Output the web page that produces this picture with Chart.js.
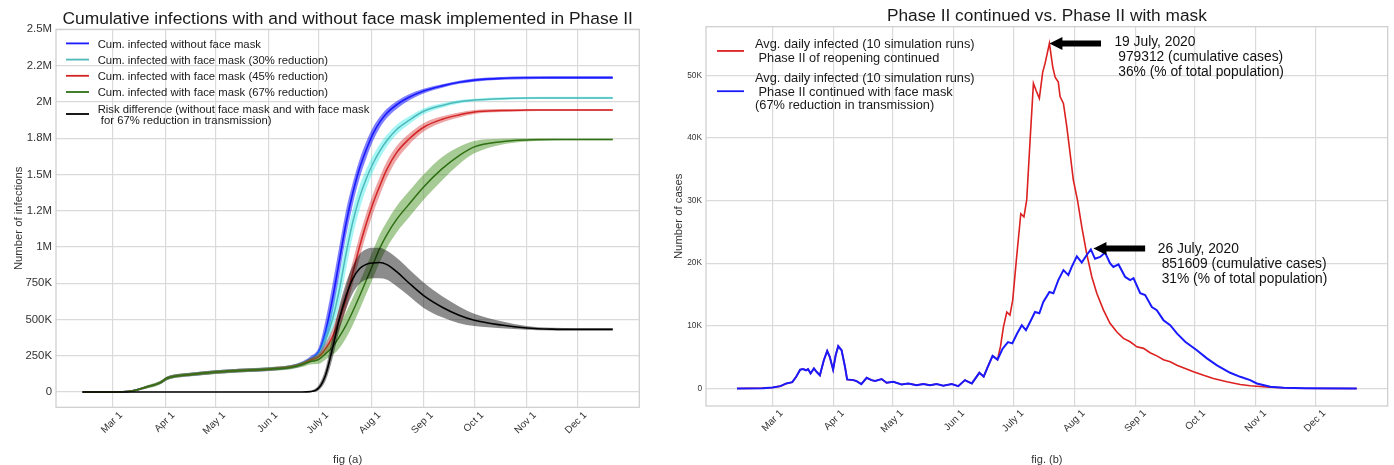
<!DOCTYPE html>
<html><head><meta charset="utf-8">
<script src="https://cdn.jsdelivr.net/npm/chart.js@4.4.1/dist/chart.umd.min.js"></script>
<style>
html,body{margin:0;padding:0;background:#fff;overflow:hidden;}
#wrap{position:relative;width:1394px;height:465px;background:#fff;}
canvas{position:absolute;top:0;}
#c1{left:0;} #c2{left:660px;}
</style></head><body>
<div id="wrap">
<canvas id="c1" width="660" height="465" style="width:660px;height:465px"></canvas>
<canvas id="c2" width="734" height="465" style="width:734px;height:465px"></canvas>
</div>
<script>
// ---------- shared axis data ----------
const monthDays = [60, 91, 121, 152, 182, 213, 244, 274, 305, 335];
const monthLabels = ['Mar 1','Apr 1','May 1','Jun 1','July 1','Aug 1','Sep 1','Oct 1','Nov 1','Dec 1'];
const cumTickValues = [0,250000,500000,750000,1000000,1250000,1500000,1750000,2000000,2250000,2500000];
const cumTickLabels = ['0','250K','500K','750K','1M','1.2M','1.5M','1.8M','2M','2.2M','2.5M'];
const dailyTickValues = [0,10000,20000,30000,40000,50000];
const dailyTickLabels = ['0','10K','20K','30K','40K','50K'];

// ---------- fig (a): cumulative infections (day of year 2020) ----------
const cumDays = [42,60,70,80,88,92,96,105,121,135,152,165,172,177,182,186,190,194,198,202,206,210,214,218,222,228,235,244,255,265,274,290,305,320,335,356];
const blueMid  = [0,0,5000,35000,65000,95000,108000,120000,138000,148000,158000,172000,196000,228000,280000,420000,640000,900000,1160000,1370000,1540000,1670000,1780000,1860000,1920000,1980000,2030000,2075000,2110000,2135000,2150000,2162000,2166000,2167000,2167000,2167000];
const blueLow  = [0,0,2000,27000,55000,84000,97000,109000,126000,136000,146000,160000,182000,210000,250000,340000,540000,800000,1070000,1290000,1470000,1610000,1730000,1820000,1885000,1950000,2008000,2058000,2097000,2124000,2139000,2152000,2156000,2157000,2157000,2157000];
const blueHigh = [0,0,8000,43000,75000,106000,119000,131000,150000,160000,170000,184000,210000,246000,310000,500000,740000,1000000,1250000,1440000,1600000,1725000,1825000,1895000,1950000,2005000,2050000,2090000,2122000,2146000,2161000,2172000,2176000,2177000,2177000,2177000];
const tealMid  = [0,0,5000,35000,65000,95000,108000,120000,138000,148000,158000,172000,194000,222000,262000,360000,500000,700000,950000,1170000,1340000,1470000,1575000,1660000,1730000,1810000,1870000,1935000,1975000,2000000,2012000,2022000,2026000,2027000,2027000,2027000];
const tealLow  = [0,0,2000,27000,55000,84000,97000,109000,126000,136000,146000,160000,180000,206000,235000,300000,420000,600000,840000,1070000,1255000,1400000,1515000,1610000,1688000,1775000,1842000,1915000,1960000,1988000,2002000,2013000,2018000,2019000,2019000,2019000];
const tealHigh = [0,0,8000,43000,75000,106000,119000,131000,150000,160000,170000,184000,208000,240000,290000,420000,590000,800000,1050000,1260000,1420000,1535000,1630000,1708000,1770000,1843000,1897000,1955000,1990000,2012000,2022000,2031000,2034000,2035000,2035000,2035000];
const redMid   = [0,0,5000,35000,65000,95000,108000,120000,138000,148000,158000,172000,193000,220000,245000,300000,380000,500000,640000,820000,1000000,1160000,1300000,1420000,1530000,1650000,1740000,1825000,1880000,1910000,1930000,1940000,1943000,1944000,1944000,1944000];
const redLow   = [0,0,2000,27000,55000,84000,97000,109000,126000,136000,146000,160000,180000,204000,225000,265000,330000,435000,565000,740000,920000,1085000,1230000,1355000,1470000,1600000,1700000,1795000,1858000,1893000,1917000,1930000,1935000,1937000,1937000,1937000];
const redHigh  = [0,0,8000,43000,75000,106000,119000,131000,150000,160000,170000,184000,206000,236000,268000,340000,435000,570000,720000,900000,1075000,1230000,1365000,1480000,1585000,1695000,1777000,1853000,1900000,1926000,1943000,1950000,1951000,1951000,1951000,1951000];
const greenMid = [0,0,5000,35000,65000,95000,108000,120000,138000,148000,158000,170000,190000,210000,225000,265000,310000,380000,460000,555000,660000,770000,880000,990000,1080000,1190000,1290000,1414000,1540000,1630000,1690000,1725000,1737000,1740000,1740000,1740000];
const greenLow = [0,0,1000,24000,52000,82000,95000,107000,125000,135000,145000,156000,172000,190000,195000,225000,255000,300000,370000,460000,565000,675000,785000,895000,990000,1100000,1200000,1325000,1460000,1570000,1645000,1705000,1727000,1734000,1735000,1735000];
const greenHigh= [0,0,9000,46000,78000,108000,121000,133000,151000,161000,171000,184000,208000,230000,255000,305000,365000,460000,550000,650000,755000,865000,975000,1085000,1170000,1280000,1380000,1500000,1620000,1690000,1730000,1745000,1747000,1746000,1745000,1745000];
const riskMid  = [0,0,0,0,0,0,0,0,0,0,0,0,0,3000,30000,120000,300000,500000,660000,780000,850000,880000,890000,893000,880000,830000,755000,665000,585000,530000,495000,462000,442000,434000,432000,432000];
const riskLow  = [0,0,0,0,0,0,0,0,0,0,0,0,0,0,15000,80000,230000,420000,570000,680000,745000,775000,785000,785000,775000,730000,665000,580000,515000,475000,455000,440000,430000,425000,424000,424000];
const riskHigh = [0,0,0,0,0,0,0,0,0,0,0,0,0,8000,50000,165000,380000,590000,750000,870000,950000,985000,995000,995000,975000,925000,850000,755000,660000,590000,540000,488000,456000,443000,440000,440000];

const cumLabels = [
  'Cum. infected without face mask',
  'Cum. infected with face mask (30% reduction)',
  'Cum. infected with face mask (45% reduction)',
  'Cum. infected with face mask (67% reduction)',
  'Risk difference (without face mask and with face mask\n for 67% reduction in transmission)'
];

// ---------- fig (b): average daily infected ----------
const maskDays  = [42,55,60,64,67,70,72,74,75.5,77,78,79.3,81,82.3,84,86,87.7,89,90.7,92,93.3,95,96.7,97.8,101,102.6,105,107.7,110.2,112,115.3,117.8,121.2,125.4,128.8,133,136.4,139.8,143.2,146.5,150.8,154.1,157.5,159.2,161,164.8,167,169,171.5,174,176.5,179.3,181.5,184,186.3,188.4,190.5,193,195.2,197.2,200.3,202.3,204.8,207.4,209.9,211.6,214.2,216.7,219.2,221.3,223.4,226,228.5,231,232.7,235.3,238.7,241.2,242.9,246.3,248.8,252.2,254.7,258.1,261.5,264.9,269.1,275,280.1,285.2,291.9,297,302,305.4,312.2,319,330,356];
const maskCases = [0,50,160,370,800,1000,1860,3000,3100,2900,3100,2400,3200,2660,2100,4500,6000,5050,3000,5300,6750,6100,3500,1440,1330,1170,700,1700,1330,1200,1500,900,1060,640,800,530,700,530,700,430,700,370,1330,1060,800,2500,1900,3400,5200,4600,6300,7400,7200,8800,10100,9300,10600,12200,12000,13800,15400,15200,17300,18900,18100,19400,21100,20100,21300,22200,20700,21000,21700,20000,19400,19800,17800,17300,17600,15200,14900,13000,12500,10900,10100,8800,7450,6100,4800,3700,2500,1860,1330,800,270,100,20,0];
const contDays  = [42,55,60,64,67,70,72,74,75.5,77,78,79.3,81,82.3,84,86,87.7,89,90.7,92,93.3,95,96.7,97.8,101,102.6,105,107.7,110.2,112,115.3,117.8,121.2,125.4,128.8,133,136.4,139.8,143.2,146.5,150.8,154.1,157.5,159.2,161,164.8,167,169,171.5,174,175.5,177,178.7,180.3,181.7,183.7,185.8,187.4,188.8,190.5,192.2,193.5,195.2,196.9,198.1,200.3,202,203.2,204.8,205.7,207.4,209.1,210.8,212.4,214.5,216.7,219.2,221.8,224.3,227.7,231,234.5,237.8,241.2,244.6,248,251.3,254.7,258.1,261.5,264.9,269.1,273.3,278.4,283.4,290.2,297,302,312,325,340,356];
const contCases = [0,50,160,370,800,1000,1860,3000,3100,2900,3100,2400,3200,2660,2100,4500,6000,5050,3000,5300,6750,6100,3500,1440,1330,1170,700,1700,1330,1200,1500,900,1060,640,800,530,700,530,700,430,700,370,1330,1060,800,2500,1900,3400,5200,4600,6700,9800,12200,11700,14100,21000,27900,27400,30100,39600,48700,47600,46300,50500,51900,55100,51300,49700,48900,46600,45500,41800,37500,33300,30100,25800,21500,17800,15200,12500,10400,9000,8000,7450,6650,6400,5700,5200,4600,4260,3700,3200,2660,2100,1600,1060,640,430,200,30,0,0];
const dailyLabels = [
  'Avg. daily infected (10 simulation runs)\n Phase II of reopening continued',
  'Avg. daily infected (10 simulation runs)\n Phase II continued with face mask\n(67% reduction in transmission)'
];
const peakNotes = [
  ['19 July, 2020', ' 979312 (cumulative cases)', ' 36% (% of total population)'],
  ['26 July, 2020', ' 851609 (cumulative cases)', ' 31% (% of total population)']
];

// ---------- helpers ----------
const FONT = '"Liberation Sans", Arial, Helvetica, sans-serif';
const GRID = '#dadada';
const pts = (xs, ys) => xs.map((x, i) => ({x, y: ys[i]}));

function drawArrow(ctx, tipX, tipY, tailX) {
  ctx.fillStyle = '#000';
  ctx.beginPath();
  ctx.moveTo(tipX, tipY);
  ctx.lineTo(tipX + 13, tipY - 6.5);
  ctx.lineTo(tipX + 13, tipY - 3);
  ctx.lineTo(tailX, tipY - 3);
  ctx.lineTo(tailX, tipY + 3);
  ctx.lineTo(tipX + 13, tipY + 3);
  ctx.lineTo(tipX + 13, tipY + 6.5);
  ctx.closePath();
  ctx.fill();
}

const decorPlugin = {
  id: 'decor',
  afterDraw(chart, args, o) {
    const ctx = chart.ctx, a = chart.chartArea;
    const cx = (a.left + a.right) / 2;
    ctx.save();
    ctx.strokeStyle = '#cccccc'; ctx.lineWidth = 1.2;
    ctx.strokeRect(a.left, a.top, a.right - a.left, a.bottom - a.top);
    ctx.textAlign = 'center'; ctx.textBaseline = 'alphabetic';
    ctx.fillStyle = '#1a1a1a';
    ctx.font = o.titleSize + 'px ' + FONT;
    ctx.fillText(o.title, cx, o.titleBaseline);
    ctx.fillStyle = '#333';
    ctx.font = o.figSize + 'px ' + FONT;
    ctx.fillText(o.fig, cx, o.figBaseline);
    ctx.save();
    ctx.translate(o.yTitleX, (a.top + a.bottom) / 2);
    ctx.rotate(-Math.PI / 2);
    ctx.font = o.yTitleSize + 'px ' + FONT;
    ctx.fillText(o.yTitle, 0, 0);
    ctx.restore();
    // legend
    const lg = o.legend;
    ctx.textAlign = 'left';
    ctx.font = lg.size + 'px ' + FONT;
    let y = a.top + lg.top;
    lg.items.forEach(idx => {
      const ds = chart.data.datasets[idx];
      const lines = ds.label.split('\n');
      const last = y + (lines.length - 1) * lg.lineH;
      const hy = (y + last) / 2 - lg.handleUp;
      ctx.strokeStyle = ds.borderColor; ctx.lineWidth = lg.handleW;
      ctx.beginPath(); ctx.moveTo(a.left + lg.x0, hy); ctx.lineTo(a.left + lg.x1, hy); ctx.stroke();
      ctx.fillStyle = '#1a1a1a';
      lines.forEach((t, i) => ctx.fillText(t, a.left + lg.tx, y + i * lg.lineH));
      y = last + lg.rowGap;
    });
    // annotations
    (o.notes || []).forEach(n => {
      const px = chart.scales.x.getPixelForValue(n.day);
      const py = chart.scales.y.getPixelForValue(n.value);
      drawArrow(ctx, px, py, px + n.tail);
      ctx.fillStyle = '#111';
      ctx.font = n.size + 'px ' + FONT;
      n.lines.forEach((t, i) => ctx.fillText(t, px + n.dx, py + n.dy + i * n.lineH));
    });
    ctx.restore();
  }
};

function xScale(h, labelOffset, padding) {
  return {
    type: 'linear', min: 26.3, max: 371.7,
    grid: { color: GRID, lineWidth: 1.2, drawTicks: false },
    border: { display: false },
    afterBuildTicks: s => { s.ticks = monthDays.map(v => ({value: v})); },
    afterFit: s => { s.height = h; },
    ticks: { autoSkip: false, maxRotation: 45, minRotation: 45, labelOffset, padding,
      color: '#333', font: { family: FONT, size: 10 },
      callback: v => monthLabels[monthDays.indexOf(v)] }
  };
}
function yScale(min, max, vals, labels, w, size) {
  return {
    type: 'linear', min, max,
    grid: { color: GRID, lineWidth: 1.2, drawTicks: false },
    border: { display: false },
    afterBuildTicks: s => { s.ticks = vals.map(v => ({value: v})); },
    afterFit: s => { s.width = w; },
    ticks: { padding: 4, color: '#333', font: { family: FONT, size },
      callback: v => labels[vals.indexOf(v)] }
  };
}

function line(label, xs, ys, color, order, width) {
  return { label, data: pts(xs, ys), borderColor: color, borderWidth: width, fill: false,
           pointRadius: 0, cubicInterpolationMode: 'monotone', order };
}
function band(xs, ys, order, fillTarget, color) {
  return { label: '', data: pts(xs, ys), borderColor: 'rgba(0,0,0,0)', borderWidth: 0,
           pointRadius: 0, cubicInterpolationMode: 'monotone', order,
           fill: fillTarget === null ? false : { target: fillTarget }, backgroundColor: color };
}

// ---------- chart (a) ----------
const cumDatasets = [
  line(cumLabels[0], cumDays, blueMid, '#1a1aff', 12, 1.6),        // 0
  band(cumDays, blueLow, 14, null, 'rgba(0,0,0,0)'),               // 1
  band(cumDays, blueHigh, 13, 1, 'rgba(0,0,255,0.5)'),             // 2
  line(cumLabels[1], cumDays, tealMid, '#4fb9b9', 9, 1.5),         // 3
  band(cumDays, tealLow, 11, null, 'rgba(0,0,0,0)'),               // 4
  band(cumDays, tealHigh, 10, 4, 'rgba(0,230,230,0.35)'),          // 5
  line(cumLabels[2], cumDays, redMid, '#d42424', 6, 1.5),          // 6
  band(cumDays, redLow, 8, null, 'rgba(0,0,0,0)'),                 // 7
  band(cumDays, redHigh, 7, 7, 'rgba(210,30,30,0.4)'),             // 8
  line(cumLabels[3], cumDays, greenMid, '#2e7012', 3, 1.5),        // 9
  band(cumDays, greenLow, 5, null, 'rgba(0,0,0,0)'),               // 10
  band(cumDays, greenHigh, 4, 10, 'rgba(60,140,20,0.45)'),         // 11
  line(cumLabels[4], cumDays, riskMid, '#000000', 0, 1.6),         // 12
  band(cumDays, riskLow, 2, null, 'rgba(0,0,0,0)'),                // 13
  band(cumDays, riskHigh, 1, 13, 'rgba(0,0,0,0.45)')               // 14
];

new Chart(document.getElementById('c1'), {
  type: 'line',
  data: { datasets: cumDatasets },
  plugins: [decorPlugin],
  options: {
    responsive: false, animation: false, devicePixelRatio: 1, events: [],
    layout: { autoPadding: false, padding: { left: 0, right: 20.7, top: 29.3, bottom: 0 } },
    scales: {
      x: xScale(57.7, 8, 2),
      y: yScale(-105000, 2500000, cumTickValues, cumTickLabels, 56, 11.4)
    },
    plugins: {
      legend: { display: false }, tooltip: { enabled: false },
      decor: {
        title: 'Cumulative infections with and without face mask implemented in Phase II',
        titleSize: 17.4, titleBaseline: 24.3,
        fig: 'fig (a)', figSize: 11.4, figBaseline: 463,
        yTitle: 'Number of infections', yTitleSize: 11.3, yTitleX: 21.7,
        legend: { items: [0, 3, 6, 9, 12], size: 11.3, top: 18.4, lineH: 11.6, rowGap: 16.2,
                  handleUp: 4.3, handleW: 1.8, x0: 10, x1: 33, tx: 41.7 }
      }
    }
  }
});

// ---------- chart (b) ----------
new Chart(document.getElementById('c2'), {
  type: 'line',
  data: { datasets: [
    { label: dailyLabels[0], data: pts(contDays, contCases), borderColor: '#dd2020', borderWidth: 1.6,
      pointRadius: 0, fill: false, order: 1 },
    { label: dailyLabels[1], data: pts(maskDays, maskCases), borderColor: '#1a1aff', borderWidth: 2,
      pointRadius: 0, fill: false, order: 0 }
  ] },
  plugins: [decorPlugin],
  options: {
    responsive: false, animation: false, devicePixelRatio: 1, events: [],
    layout: { autoPadding: false, padding: { left: 0, right: 6.3, top: 26.7, bottom: 0 } },
    scales: {
      x: xScale(59, 9, 1.5),
      y: yScale(-2800, 57750, dailyTickValues, dailyTickLabels, 46, 8.3)
    },
    plugins: {
      legend: { display: false }, tooltip: { enabled: false },
      decor: {
        title: 'Phase II continued vs. Phase II with mask',
        titleSize: 17.3, titleBaseline: 21,
        fig: 'fig. (b)', figSize: 11, figBaseline: 463,
        yTitle: 'Number of cases', yTitleSize: 11.3, yTitleX: 22.3,
        legend: { items: [0, 1], size: 12.8, top: 21.6, lineH: 13.9, rowGap: 19.4,
                  handleUp: 4.3, handleW: 1.8, x0: 11, x1: 38, tx: 49 },
        notes: [
          { day: 200.3, value: 55050, tail: 51.6, dx: 65, dy: 2.4, lineH: 15.2, size: 13.8, lines: peakNotes[0] },
          { day: 222.6, value: 22340, tail: 51.7, dx: 64.4, dy: 4.4, lineH: 15.0, size: 13.8, lines: peakNotes[1] }
        ]
      }
    }
  }
});
</script>
</body></html>
